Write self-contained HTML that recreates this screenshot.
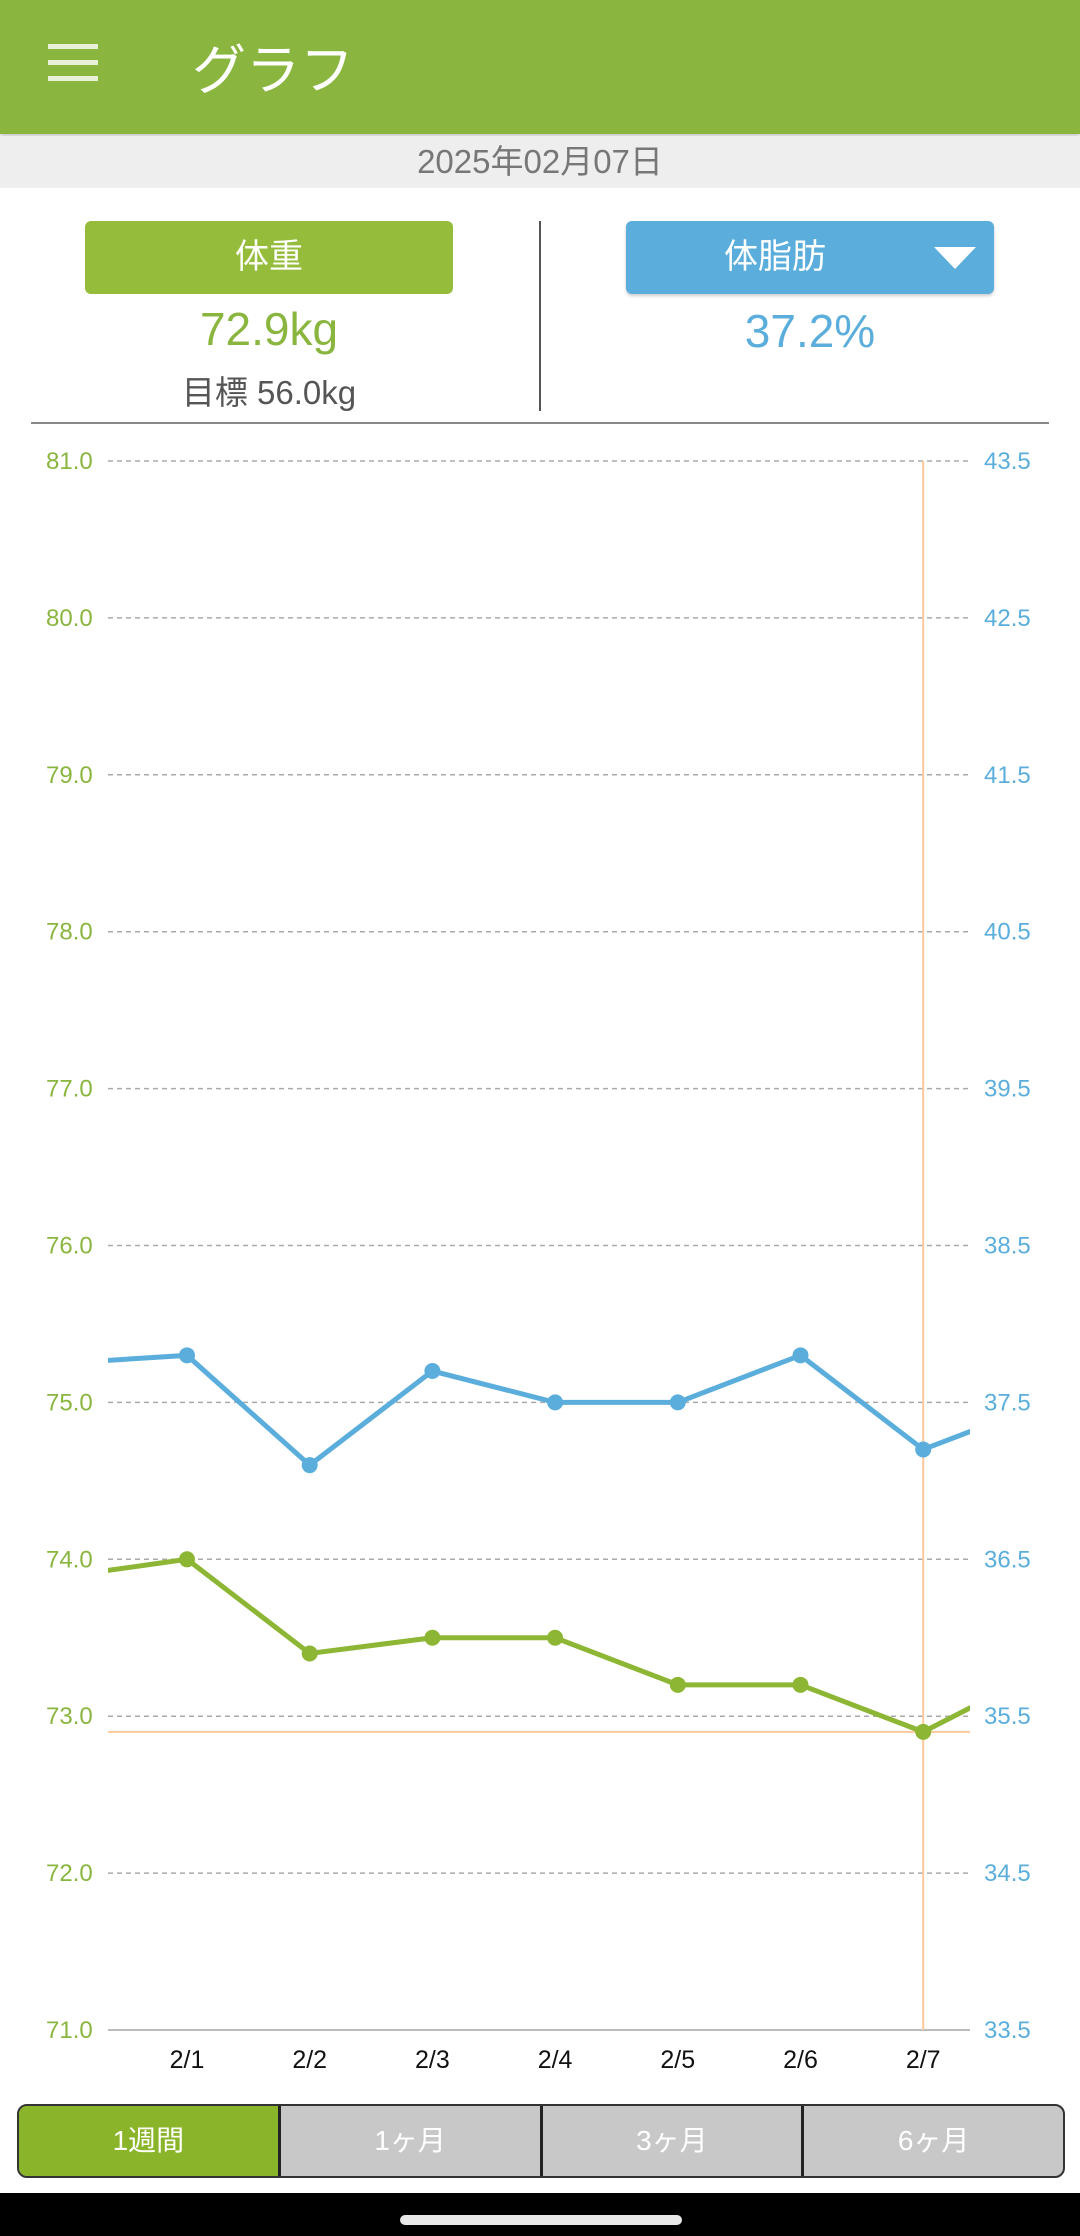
<!DOCTYPE html>
<html><head><meta charset="utf-8"><style>
body{margin:0;width:1080px;height:2236px;position:relative;background:#fff;font-family:"Liberation Sans","Noto Sans CJK JP",sans-serif;overflow:hidden}
.abs{position:absolute}
</style></head><body>
<div class="abs" style="left:0;top:0;width:1080px;height:134px;background:#8AB640;box-shadow:0 2px 4px rgba(0,0,0,.25)">
  <div class="abs" style="left:48px;top:44px;width:50px;height:38px">
    <div class="abs" style="left:0;top:0;width:50px;height:5px;background:#e8f0d8"></div>
    <div class="abs" style="left:0;top:16px;width:50px;height:5px;background:#e8f0d8"></div>
    <div class="abs" style="left:0;top:32px;width:50px;height:5px;background:#e8f0d8"></div>
  </div>
  <div class="abs" style="left:192px;top:26px;font-size:54px;color:#fff">グラフ</div>
</div>
<div class="abs" style="left:0;top:136px;width:1080px;height:52px;background:#eee;text-align:center;font-size:33px;line-height:52px;color:#777">2025年02月07日</div>
<div class="abs" style="left:85px;top:221px;width:368px;height:73px;background:#96BC3C;border-radius:6px;color:#fff;font-size:34px;text-align:center;line-height:73px">体重</div>
<div class="abs" style="left:85px;top:302px;width:368px;text-align:center;font-size:46px;color:#8AB640">72.9kg</div>
<div class="abs" style="left:85px;top:366px;width:368px;text-align:center;font-size:33px;color:#555">目標 56.0kg</div>
<div class="abs" style="left:539px;top:221px;width:2px;height:190px;background:#555"></div>
<div class="abs" style="left:626px;top:221px;width:368px;height:73px;background:#5BAEDC;border-radius:6px;box-shadow:0 2px 3px rgba(0,0,0,.2);color:#fff;font-size:34px;line-height:73px">
  <span style="position:absolute;left:98px">体脂肪</span>
  <div class="abs" style="left:308px;top:26px;width:0;height:0;border-left:21px solid transparent;border-right:21px solid transparent;border-top:22px solid #fff"></div>
</div>
<div class="abs" style="left:626px;top:304px;width:368px;text-align:center;font-size:46px;color:#5BAEDC">37.2%</div>
<div class="abs" style="left:31px;top:422px;width:1018px;height:2px;background:#888"></div>

<svg class="abs" style="left:0;top:0" width="1080" height="2236" id="chart"></svg>

<div class="abs" style="left:17px;top:2104px;width:1044px;height:70px;border:2px solid #333;border-radius:10px;overflow:hidden;display:flex;background:#c8c8c8">
  <div style="flex:1;background:#8AB42A;color:#fff;font-size:28px;text-align:center;line-height:70px">1週間</div>
  <div style="flex:1;border-left:3px solid #222;color:#fff;font-size:28px;text-align:center;line-height:70px">1ヶ月</div>
  <div style="flex:1;border-left:3px solid #222;color:#fff;font-size:28px;text-align:center;line-height:70px">3ヶ月</div>
  <div style="flex:1;border-left:3px solid #222;color:#fff;font-size:28px;text-align:center;line-height:70px">6ヶ月</div>
</div>
<div class="abs" style="left:0;top:2193px;width:1080px;height:43px;background:#000">
  <div class="abs" style="left:400px;top:22px;width:282px;height:10px;border-radius:5px;background:#e8e8e8"></div>
</div>
<script>
const dates=["2/0","2/1","2/2","2/3","2/4","2/5","2/6","2/7","2/8"];
const xLabels=["2/1","2/2","2/3","2/4","2/5","2/6","2/7"];
const weight=[73.89,74.0,73.4,73.5,73.5,73.2,73.2,72.9,73.3];
const bodyFat=[37.75,37.8,37.1,37.7,37.5,37.5,37.8,37.2,37.5];
const leftTicks=[81,80,79,78,77,76,75,74,73,72,71];
const rightTicks=[43.5,42.5,41.5,40.5,39.5,38.5,37.5,36.5,35.5,34.5,33.5];
const targetWeight=72.9;
const selectedIndex=7;
const NS="http://www.w3.org/2000/svg";
const svg=document.getElementById('chart');
const L=108,R=970,T=461,B=2030;
const yW=v=>B-(v-71)/10*(B-T);
const yF=v=>B-(v-33.5)/10*(B-T);
const xI=i=>187+(i-1)*122.7;
function mk(t,a){const e=document.createElementNS(NS,t);for(const k in a)e.setAttribute(k,a[k]);svg.appendChild(e);return e;}
const defs=mk('defs',{});
const cp=document.createElementNS(NS,'clipPath');cp.setAttribute('id','clip');
const cr=document.createElementNS(NS,'rect');cr.setAttribute('x',L);cr.setAttribute('y',T-20);cr.setAttribute('width',R-L);cr.setAttribute('height',B-T+40);
cp.appendChild(cr);defs.appendChild(cp);
leftTicks.forEach((v,i)=>{
  const y=yW(v);
  const g=mk('line',{x1:L,x2:R,y1:y,y2:y,stroke:i==leftTicks.length-1?'#bbb':'#aaa','stroke-width':i==leftTicks.length-1?2:1.5,'stroke-dasharray':i==leftTicks.length-1?'':'5,4'});
  
  
  const t=mk('text',{x:46,y:y+8,'font-size':24,fill:'#8AB640','font-family':'Liberation Sans'});t.textContent=v.toFixed(1);
  
  
});
rightTicks.forEach(v=>{
  const t=mk('text',{x:984,y:yF(v)+8,'font-size':24,fill:'#5BAEDC','font-family':'Liberation Sans'});t.textContent=v.toFixed(1);
  
  
});
xLabels.forEach((s,i)=>{
  const t=mk('text',{x:xI(i+1),y:2068,'font-size':25,fill:'#111','text-anchor':'middle','font-family':'Liberation Sans'});t.textContent=s;
  
  
});
const th=mk('line',{x1:L,x2:R,y1:yW(targetWeight),y2:yW(targetWeight),stroke:'#FBC99A','stroke-width':2});


const sv=mk('line',{x1:xI(selectedIndex),x2:xI(selectedIndex),y1:T,y2:B,stroke:'#FBC99A','stroke-width':2});


function series(vals,yf,color,name){
  const g=mk('g',{'clip-path':'url(#clip)'});
  
  
  const p=document.createElementNS(NS,'polyline');
  p.setAttribute('points',vals.map((v,i)=>xI(i)+','+yf(v)).join(' '));
  p.setAttribute('fill','none');p.setAttribute('stroke',color);p.setAttribute('stroke-width',5);
  
  
  g.appendChild(p);
  vals.forEach((v,i)=>{
    if(i==0||i==vals.length-1)return;
    const c=document.createElementNS(NS,'circle');
    c.setAttribute('cx',xI(i));c.setAttribute('cy',yf(v));c.setAttribute('r',8);c.setAttribute('fill',color);
    
    
    g.appendChild(c);
  });
}
series(bodyFat,yF,'#5BAEDC','body-fat');
series(weight,yW,'#8DB634','weight');
</script>
</body></html>
